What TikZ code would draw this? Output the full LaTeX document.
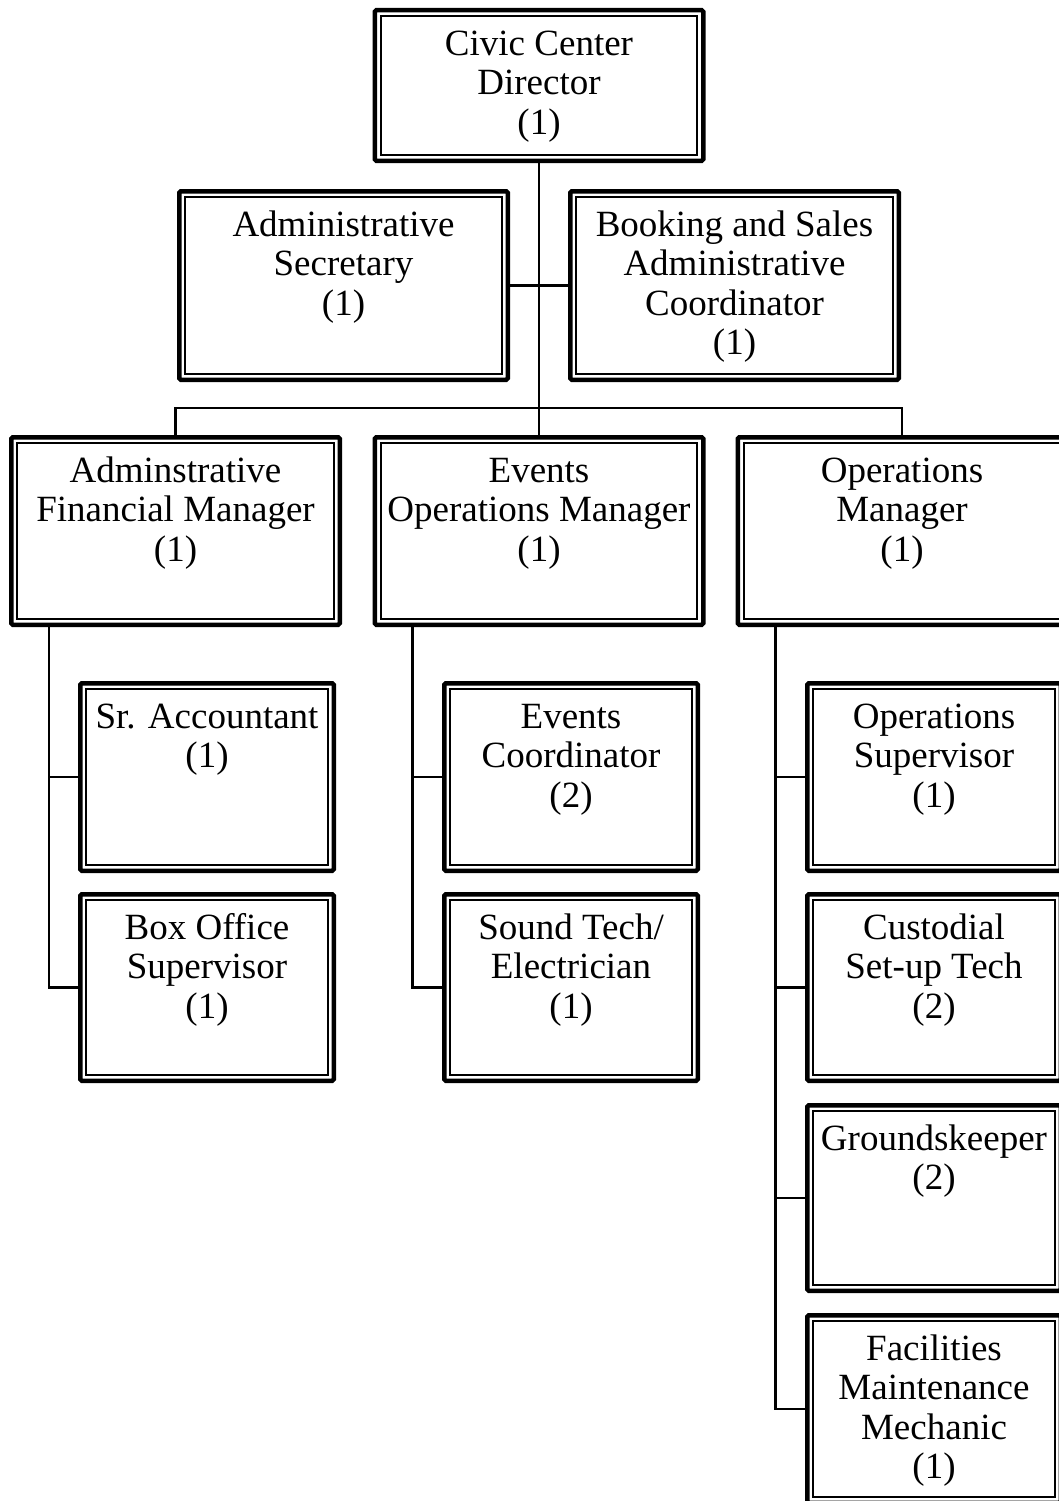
\documentclass[tikz,border=0pt]{standalone}
\usepackage{fontspec}
\setmainfont{Liberation Serif}
\newcommand\orgbox[6]{%
  \node[obox, minimum width=#4-4.5, minimum height=#5-4.5, anchor=north] (#1) at (#2,#3+2.25) {};
  \node[otext] (#1-t) at ([yshift=-17.1pt]#1.north) {\strut #6};
}
\begin{document}
\begin{tikzpicture}[x=1pt,y=-1pt,
  obox/.style={draw, line width=4.5pt, rounded corners=1.5pt, inner sep=0pt, outer sep=0pt, fill=white,
    path picture={\draw[line width=1.6pt, sharp corners]
      ([xshift=6pt,yshift=-6pt]path picture bounding box.north west) rectangle
      ([xshift=-6pt,yshift=6pt]path picture bounding box.south east);}},
  otext/.style={anchor=north, align=center, inner sep=0pt, font=\fontsize{37}{39.5}\selectfont},
  conn/.style={line width=2.1pt}]
\useasboundingbox (0,0) rectangle (1059,1501);
\fill[white] (0,0) rectangle (1059,1501);
\clip (0,0) rectangle (1059,1501);

\orgbox{civic}{539}{8}{333}{155}{Civic Center\\Director\\(1)}
\orgbox{adsec}{343.5}{189}{333}{193}{Administrative\\Secretary\\(1)}
\orgbox{book}{734.5}{189}{333}{193}{Booking and Sales\\Administrative\\Coordinator\\(1)}
\orgbox{afm}{175.5}{435}{333}{192}{Adminstrative\\Financial Manager\\(1)}
\orgbox{evops}{539}{435}{333}{192}{Events\\Operations Manager\\(1)}
\orgbox{opm}{902}{435}{333}{192}{Operations\\Manager\\(1)}
\orgbox{sracc}{207}{681}{258}{192}{Sr. Accountant\\(1)}
\orgbox{boxoff}{207}{892}{258}{191}{Box Office\\Supervisor\\(1)}
\orgbox{evco}{571}{681}{258}{192}{Events\\Coordinator\\(2)}
\orgbox{sound}{571}{892}{258}{191}{Sound Tech/\\Electrician\\(1)}
\orgbox{opsup}{934}{681}{258}{192}{Operations\\Supervisor\\(1)}
\orgbox{cust}{934}{892}{258}{191}{Custodial\\Set-up Tech\\(2)}
\orgbox{grounds}{934}{1103}{258}{190}{Groundskeeper\\(2)}
\orgbox{fac}{934}{1313}{258}{192}{Facilities\\Maintenance\\Mechanic\\(1)}

\coordinate (bar) at (539,408);
\draw[conn] (civic.south) -- (evops.north);
\draw[conn] (adsec.east) -- (book.west);
\draw[conn] (afm.north) |- (bar) -| (opm.north);
\draw[conn] ([xshift=37.75pt]afm.south west) |- (sracc.west);
\draw[conn] ([xshift=37.75pt]afm.south west) |- (boxoff.west);
\draw[conn] ([xshift=37.75pt]evops.south west) |- (evco.west);
\draw[conn] ([xshift=37.75pt]evops.south west) |- (sound.west);
\draw[conn] ([xshift=37.75pt]opm.south west) |- (opsup.west);
\draw[conn] ([xshift=37.75pt]opm.south west) |- (cust.west);
\draw[conn] ([xshift=37.75pt]opm.south west) |- (grounds.west);
\draw[conn] ([xshift=37.75pt]opm.south west) |- (fac.west);
\end{tikzpicture}
\end{document}
